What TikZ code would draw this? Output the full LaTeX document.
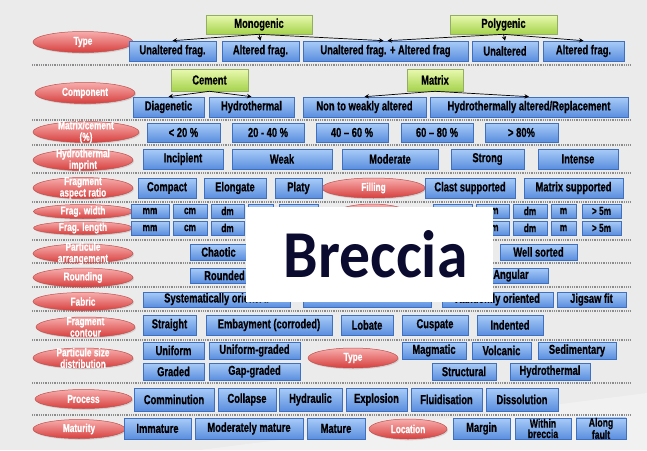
\documentclass[tikz,border=0pt]{standalone}
\usepackage{fontspec}
\usetikzlibrary{shapes.geometric,shadows,arrows.meta}
\newfontfamily\bxf{Liberation Sans}[FakeStretch=0.72, BoldFeatures={FakeStretch=0.72, FakeBold=0.6}]
\newfontfamily\brf{Carlito}[FakeStretch=0.92]
\definecolor{bgc}{HTML}{EBEBEB}
\definecolor{bglight}{HTML}{F1F1F1}
\definecolor{bluetop}{HTML}{A9CCF8}
\definecolor{bluebot}{HTML}{5A8EDE}
\definecolor{blueedge}{HTML}{3F6FBF}
\definecolor{greentop}{HTML}{E9F9B0}
\definecolor{greenbot}{HTML}{A6D34C}
\definecolor{greenedge}{HTML}{93AD62}
\definecolor{redtop}{HTML}{F8ADAD}
\definecolor{redbot}{HTML}{D63F3D}
\definecolor{rededge}{HTML}{C0504D}
\definecolor{navy}{HTML}{0B0B30}
\definecolor{sepc}{HTML}{8C8C8C}
\tikzset{
  bbox/.style={draw=blueedge, line width=0.6pt, top color=bluetop, bottom color=bluebot,
    inner sep=0pt, text=black, align=center,
    font=\bxf\bfseries\fontsize{13}{10.5}\selectfont,
    drop shadow={shadow xshift=1pt,shadow yshift=-1.3pt,opacity=0.3}},
  smallbox/.style={font=\bxf\bfseries\fontsize{11.5}{11.5}\selectfont},
  twoline/.style={font=\bxf\bfseries\fontsize{12}{10.5}\selectfont},
  gbox/.style={bbox, draw=greenedge, top color=greentop, bottom color=greenbot},
  rell/.style={ellipse, draw=rededge, line width=0.5pt, top color=redtop, bottom color=redbot,
    inner sep=0pt, drop shadow={shadow xshift=1pt,shadow yshift=-1.3pt,opacity=0.25}},
  rtxt/.style={text=white, inner sep=0pt, align=center,
    font=\bxf\bfseries\fontsize{11.5}{11.5}\selectfont},
  sepline/.style={sepc, line width=1.1pt, dash pattern=on 0.9pt off 0.9pt},
  arr/.style={-{Stealth[length=4.5pt,width=4.5pt]}, line width=0.7pt, black}
}
% box: [opts]{name}{x1}{y1}{x2}{y2}{text}
\newcommand\BX[7][]{\node[bbox,#1,minimum width={(#5)-(#3)},minimum height={(#6)-(#4)}] (#2) at ({((#3)+(#5))/2},{((#4)+(#6))/2}) {#7};}
% ellipse: {name}{cx}{cy}{w}{h}{text}
\newcommand\EL[6]{\node[rell,minimum width=#4,minimum height=#5] (#1) at (#2,#3) {};
  \node[rtxt] (#1-t) at (#1) {#6};}
\begin{document}
\begin{tikzpicture}[x=1pt,y=-1pt]
\useasboundingbox (0,0) rectangle (647,450);
\fill[bgc] (0,0) rectangle (647,450);
\fill[bglight] (200,450) -- (647,393) -- (647,450) -- cycle;

% separators
\foreach \yy in {65,120,145,173,202,240,263,287,311,340,383,415}
  \draw[sepline] (32,\yy) -- (630,\yy);

% ellipses (left)
\EL{eType}{83}{42}{100}{21}{Type}
\EL{eComp}{85}{93}{100}{21}{Component}
\EL{eMat}{86}{132}{106}{21}{Matrix/cement\\(\%)}
\EL{eHyd}{83}{160}{100}{21}{Hydrothermal\\imprint}
\EL{eFar}{83}{188}{100}{21}{Fragment\\aspect ratio}
\EL{eFw}{83}{211.5}{99}{14}{Frag. width}
\EL{eFl}{83}{228}{99}{13}{Frag. length}
\EL{ePa}{83}{253.5}{100}{19}{Particule\\arrangement}
\EL{eRnd}{83}{277.5}{100}{19}{Rounding}
\EL{eFab}{83}{301.5}{100}{18}{Fabric}
\EL{eCon}{85.5}{327}{99}{20}{Fragment\\contour}
\EL{ePsd}{83}{358}{100}{20}{Particule size\\distribution}
\EL{eProc}{83.5}{399}{97}{19}{Process}
\EL{eMatu}{79}{429}{92}{19}{Maturity}
% ellipses (right)
\EL{eFill}{373.5}{188}{103}{20}{Filling}
\node[rell,minimum width=90,minimum height=32] (eHid) at (372,220) {};
\EL{eType2}{353}{358}{90}{20}{Type}
\EL{eLoc}{408}{429}{78}{20}{Location}

% row 1: type
\BX[gbox]{mono}{206}{15}{312}{34}{Monogenic}
\BX[gbox]{poly}{450}{15}{557}{34}{Polygenic}
\BX{uf1}{129}{41}{216}{61}{Unaltered frag.}
\BX{af1}{222}{41}{299}{61}{Altered frag.}
\BX{uaf}{303}{41}{468}{61}{Unaltered frag. + Altered frag}
\BX{un}{472}{41}{538}{61}{Unaltered}
\BX{af2}{543}{41}{624}{61}{Altered frag.}
\draw[arr] (mono.south) -- (uf1.north);
\draw[arr] (mono.south) -- (af1.north);
\draw[arr] (mono.south) -- ([xshift=-2pt]uaf.north);
\draw[arr] (poly.south) -- ([xshift=2pt]uaf.north);
\draw[arr] (poly.south) -- (un.north);
\draw[arr] (poly.south) -- (af2.north);

% row 2: component
\BX[gbox]{cem}{171}{69}{248}{91}{Cement}
\BX[gbox]{mat}{407}{69}{463}{91}{Matrix}
\BX{diag}{133}{97}{204}{117}{Diagenetic}
\BX{hydt}{209}{97}{294}{117}{Hydrothermal}
\BX{ntw}{303}{97}{426}{117}{Non to weakly altered}
\BX{hap}{430}{97}{628}{117}{Hydrothermally altered/Replacement}
\draw[arr] (cem.south) -- (diag.north);
\draw[arr] (cem.south) -- (hydt.north);
\draw[arr] (mat.south) -- (ntw.north);
\draw[arr] (mat.south) -- (hap.north);

% row 3: matrix/cement
\BX{p20}{147}{123}{220}{142}{< 20 \%}
\BX{p40}{232}{123}{304}{142}{20 - 40 \%}
\BX{p60}{316}{123}{388}{142}{40 – 60 \%}
\BX{p80}{401}{123}{473}{142}{60 – 80 \%}
\BX{pm}{485}{123}{558}{142}{> 80\%}

% row 4: hydrothermal imprint
\BX{inc}{143}{149}{223}{169}{Incipient}
\BX{weak}{232}{149}{332}{169}{Weak}
\BX{mod}{342}{149}{438}{169}{Moderate}
\BX{strg}{451}{149}{524}{169}{Strong}
\BX{intn}{538}{149}{618}{169}{Intense}

% row 5: aspect ratio / filling
\BX{comp}{138}{178}{196}{198}{Compact}
\BX{elon}{204}{178}{266}{198}{Elongate}
\BX{plat}{275}{178}{322}{198}{Platy}
\BX{clast}{425}{178}{515}{198}{Clast supported}
\BX{msup}{524}{178}{623}{198}{Matrix supported}

% rows 6-7: frag width / length (boxes under the title panel show no text)
\BX[smallbox]{wmm}{131}{204}{169}{218}{mm}
\BX[smallbox]{wcm}{173}{204}{207}{218}{cm}
\BX[smallbox]{wdm}{211}{204}{244}{218}{dm}
\BX[smallbox]{wm}{248}{204}{273}{218}{}
\BX[smallbox]{wf}{279}{204}{318}{218}{}
\BX[smallbox]{wmmb}{433}{204}{472}{218}{}
\BX[smallbox]{wcmb}{476}{204}{509}{218}{cm}
\BX[smallbox]{wdmb}{513}{204}{547}{218}{dm}
\BX[smallbox]{wmb}{551}{204}{576}{218}{m}
\BX[smallbox]{wfb}{582}{204}{621}{218}{> 5m}
\BX[smallbox]{lmm}{131}{221}{169}{235}{mm}
\BX[smallbox]{lcm}{173}{221}{207}{235}{cm}
\BX[smallbox]{ldm}{211}{221}{244}{235}{dm}
\BX[smallbox]{lm}{248}{221}{273}{235}{}
\BX[smallbox]{lf}{279}{221}{318}{235}{}
\BX[smallbox]{lmmb}{433}{221}{472}{235}{}
\BX[smallbox]{lcmb}{476}{221}{509}{235}{cm}
\BX[smallbox]{ldmb}{513}{221}{547}{235}{dm}
\BX[smallbox]{lmb}{551}{221}{576}{235}{m}
\BX[smallbox]{lfb}{582}{221}{621}{235}{> 5m}

% row 8: arrangement
\BX{chao}{190}{244}{247}{260}{Chaotic}
\BX{well}{500}{244}{577}{260}{Well sorted}
% row 9: rounding
\BX{rnd}{190}{268}{259}{283}{Rounded}
\BX{ang}{474}{268}{548}{283}{Angular}
% row 10: fabric
\BX{sys}{143}{292}{290}{307}{\raisebox{3.5pt}{Systematically oriented}}
\BX{fmid}{303}{292}{431}{307}{}
\BX{rand}{442}{292}{553}{307}{Randomly oriented}
\BX{jig}{557}{292}{626}{307}{Jigsaw fit}
% row 11: contour
\BX{strt}{143}{315}{196}{335}{Straight}
\BX{emb}{206}{315}{332}{335}{Embayment (corroded)}
\BX{lob}{341}{315}{393}{335}{Lobate}
\BX{cusp}{402}{315}{468}{335}{Cuspate}
\BX{ind}{477}{315}{543}{335}{Indented}
% row 12: size distribution / type
\BX{unif}{143}{342}{204}{359}{Uniform}
\BX{ugr}{209}{342}{300}{359}{Uniform-graded}
\BX{grad}{143}{363}{204}{380}{Graded}
\BX{gap}{209}{363}{300}{380}{Gap-graded}
\BX{mag}{402}{342}{466}{359}{Magmatic}
\BX{volc}{472}{342}{531}{359}{Volcanic}
\BX{sed}{538}{342}{616}{359}{Sedimentary}
\BX{struc}{432}{363}{496}{380}{Structural}
\BX{hydr}{510}{363}{590}{380}{Hydrothermal}
% row 13: process
\BX{comm}{134}{388}{214}{411}{Comminution}
\BX{coll}{218}{388}{276}{411}{Collapse}
\BX{hydra}{279}{388}{342}{411}{Hydraulic}
\BX{expl}{346}{388}{407}{411}{Explosion}
\BX{flu}{411}{388}{482}{411}{Fluidisation}
\BX{diss}{486}{388}{558}{411}{Dissolution}
% row 14: maturity / location
\BX{imm}{124}{418}{191}{439}{Immature}
\BX{modm}{195}{418}{303}{439}{Moderately mature}
\BX{matu}{307}{418}{365}{439}{Mature}
\BX{marg}{453}{418}{510}{439}{Margin}
\BX[twoline]{wb}{515}{418}{571}{439}{Within\\breccia}
\BX[twoline]{alf}{576}{418}{626}{439}{Along\\fault}

% title panel
\node[fill=white, inner sep=0pt, minimum width=247, minimum height=95] (panel) at (369.5,254.5) {};
\node[anchor=base, inner sep=0pt, text=navy, font=\brf\bfseries\fontsize{67}{67}\selectfont] (brec) at (375.5,277) {Breccia};
\end{tikzpicture}
\end{document}
